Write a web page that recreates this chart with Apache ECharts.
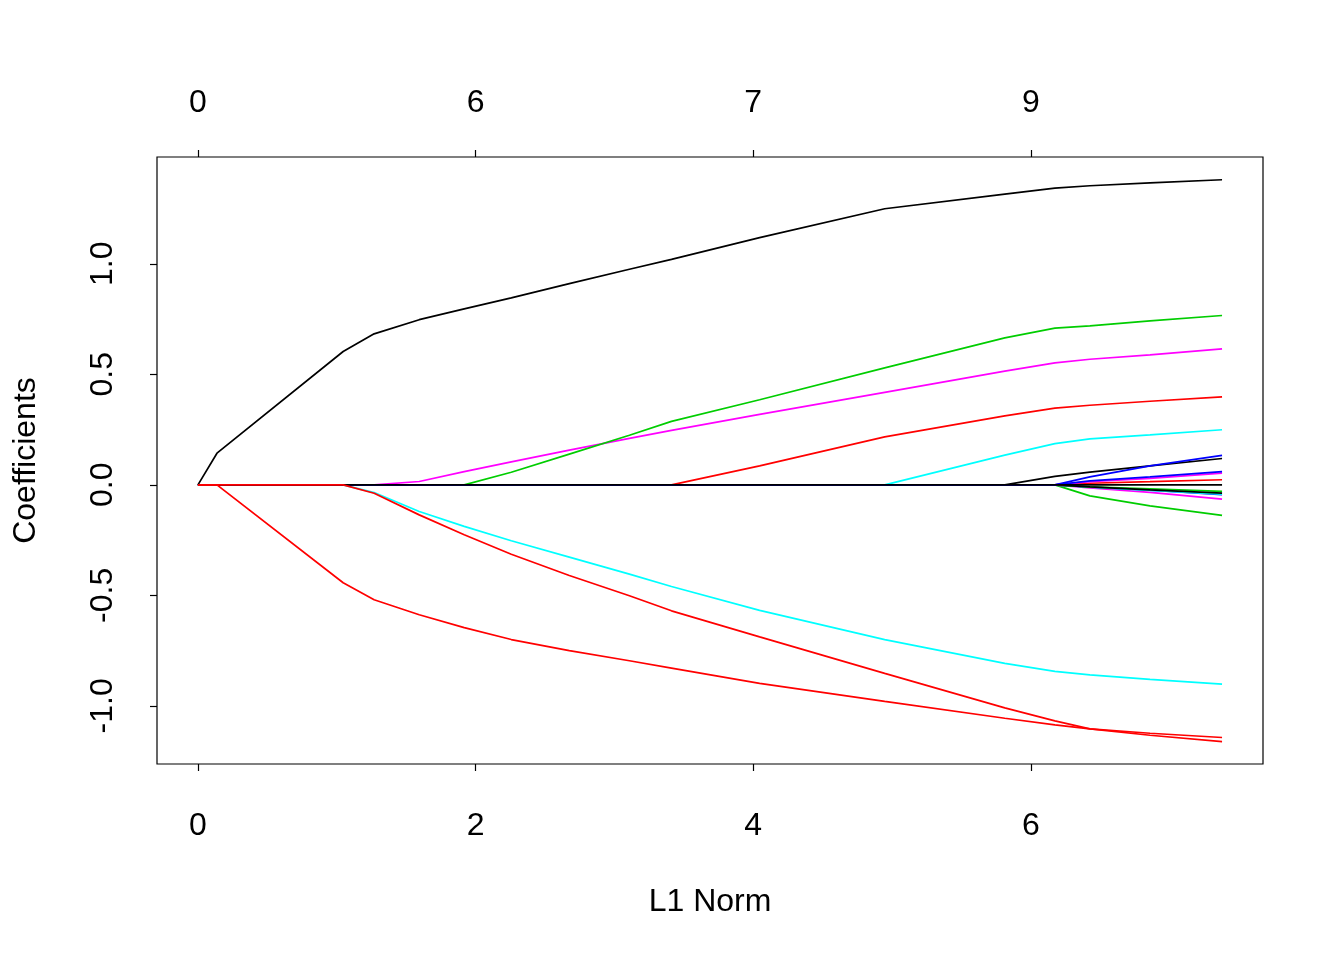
<!DOCTYPE html>
<html>
<head>
<meta charset="utf-8">
<script src="https://cdn.jsdelivr.net/npm/echarts@6/dist/echarts.min.js"></script>
<style>
html,body{margin:0;padding:0;background:#fff;}
#chart{width:1344px;height:960px;}
</style>
</head>
<body>
<div id="chart"></div>
<script>
// L1 norm at each knot of the path
const l1Norm = [0, 0.137, 1.046, 1.269, 1.594, 1.918, 2.257, 2.675, 3.108, 3.411, 4.046, 4.947, 5.812, 6.173, 6.425, 6.858, 7.377];

// coefficient paths (value at each knot)
const coefBlack1   = [0, 0.143, 0.603, 0.683, 0.747, 0.796, 0.846, 0.910, 0.975, 1.020, 1.118, 1.249, 1.315, 1.342, 1.353, 1.366, 1.380];
const coefRed1     = [0, 0, -0.443, -0.520, -0.588, -0.646, -0.700, -0.750, -0.796, -0.829, -0.898, -0.980, -1.056, -1.086, -1.104, -1.124, -1.143];
const coefRed2     = [0, 0, 0, -0.038, -0.136, -0.226, -0.314, -0.410, -0.502, -0.570, -0.688, -0.853, -1.009, -1.068, -1.104, -1.133, -1.162];
const coefCyan1    = [0, 0, 0, -0.035, -0.121, -0.188, -0.253, -0.327, -0.404, -0.460, -0.568, -0.700, -0.808, -0.844, -0.860, -0.880, -0.902];
const coefMagenta1 = [0, 0, 0, 0, 0.015, 0.060, 0.104, 0.157, 0.210, 0.246, 0.319, 0.418, 0.514, 0.552, 0.568, 0.588, 0.615];
const coefGreen1   = [0, 0, 0, 0, 0, 0, 0.057, 0.139, 0.224, 0.287, 0.385, 0.529, 0.665, 0.709, 0.719, 0.742, 0.766];
const coefRed3     = [0, 0, 0, 0, 0, 0, 0, 0, 0, 0, 0.086, 0.217, 0.312, 0.347, 0.360, 0.378, 0.398];
const coefCyan2    = [0, 0, 0, 0, 0, 0, 0, 0, 0, 0, 0, 0, 0.134, 0.186, 0.208, 0.226, 0.249];
const coefBlack2   = [0, 0, 0, 0, 0, 0, 0, 0, 0, 0, 0, 0, 0, 0.038, 0.057, 0.086, 0.119];
const coefBlue1    = [0, 0, 0, 0, 0, 0, 0, 0, 0, 0, 0, 0, 0, 0, 0.036, 0.086, 0.133];
const coefBlue2    = [0, 0, 0, 0, 0, 0, 0, 0, 0, 0, 0, 0, 0, 0, 0.018, 0.036, 0.060];
const coefMagenta2 = [0, 0, 0, 0, 0, 0, 0, 0, 0, 0, 0, 0, 0, 0, 0.014, 0.029, 0.053];
const coefRed4     = [0, 0, 0, 0, 0, 0, 0, 0, 0, 0, 0, 0, 0, 0, 0.007, 0.014, 0.023];
const coefGreen2   = [0, 0, 0, 0, 0, 0, 0, 0, 0, 0, 0, 0, 0, 0, -0.009, -0.018, -0.030];
const coefCyan3    = [0, 0, 0, 0, 0, 0, 0, 0, 0, 0, 0, 0, 0, 0, -0.011, -0.025, -0.042];
const coefBlue3    = [0, 0, 0, 0, 0, 0, 0, 0, 0, 0, 0, 0, 0, 0, -0.010, -0.024, -0.044];
const coefBlack3   = [0, 0, 0, 0, 0, 0, 0, 0, 0, 0, 0, 0, 0, 0, -0.009, -0.023, -0.038];
const coefMagenta3 = [0, 0, 0, 0, 0, 0, 0, 0, 0, 0, 0, 0, 0, 0, -0.014, -0.034, -0.065];
const coefGreen3   = [0, 0, 0, 0, 0, 0, 0, 0, 0, 0, 0, 0, 0, 0, -0.050, -0.095, -0.138];
const coefBlack4   = [0, 0, 0, 0, 0, 0, 0, 0, 0, 0, 0, 0, 0, 0, 0, 0, 0];

// tick labels
const bottomTicks = [0, 2, 4, 6];
const topTickLabels = ['0', '6', '7', '9'];
const yTicks = [-1, -0.5, 0, 0.5, 1];

const BLACK = '#000000', RED = '#FF0000', GREEN = '#00CD00', BLUE = '#0000FF', CYAN = '#00FFFF', MAGENTA = '#FF00FF';

// draw order: later on top
const paths = [
  [coefMagenta1, MAGENTA], [coefGreen1, GREEN], [coefCyan1, CYAN], [coefRed3, RED],
  [coefCyan2, CYAN], [coefGreen3, GREEN], [coefMagenta3, MAGENTA], [coefBlue3, BLUE],
  [coefCyan3, CYAN], [coefGreen2, GREEN], [coefBlack3, BLACK], [coefRed4, RED],
  [coefMagenta2, MAGENTA], [coefBlue2, BLUE], [coefBlack2, BLACK], [coefBlue1, BLUE],
  [coefBlack4, BLACK], [coefBlack1, BLACK], [coefRed2, RED], [coefRed1, RED]
];

const FONT = 'Liberation Sans, Arial, Helvetica, sans-serif';
const FS = 32;

const chart = echarts.init(document.getElementById('chart'), null, {renderer: 'canvas'});
chart.setOption({
  animation: false,
  backgroundColor: '#ffffff',
  grid: {left: 157, right: 81, top: 157, bottom: 196, show: true, borderColor: '#000', borderWidth: 1.2, backgroundColor: 'transparent'},
  xAxis: [{
    type: 'value', position: 'bottom', min: -0.295, max: 7.672,
    name: 'L1 Norm', nameLocation: 'middle', nameGap: 122,
    nameTextStyle: {color: '#000', fontSize: FS, fontFamily: FONT},
    axisLine: {show: false, onZero: false},
    splitLine: {show: false},
    axisTick: {show: true, length: 7, inside: false, customValues: bottomTicks, lineStyle: {color: '#000', width: 1.2}},
    axisLabel: {show: true, customValues: bottomTicks, margin: 46, color: '#000', fontSize: FS, fontFamily: FONT, formatter: v => String(v)}
  }, {
    type: 'value', position: 'top', min: -0.295, max: 7.672,
    axisLine: {show: false, onZero: false},
    splitLine: {show: false},
    axisTick: {show: true, length: 7, inside: false, customValues: bottomTicks, lineStyle: {color: '#000', width: 1.2}},
    axisLabel: {show: true, customValues: bottomTicks, margin: 38, color: '#000', fontSize: FS, fontFamily: FONT,
      formatter: v => topTickLabels[bottomTicks.indexOf(Math.round(v))]}
  }],
  yAxis: {
    type: 'value', min: -1.263, max: 1.483, position: 'left',
    name: 'Coefficients', nameLocation: 'middle', nameGap: 115, nameRotate: 90,
    nameTextStyle: {color: '#000', fontSize: FS, fontFamily: FONT},
    axisLine: {show: false, onZero: false},
    splitLine: {show: false},
    axisTick: {show: true, length: 7, inside: false, customValues: yTicks, lineStyle: {color: '#000', width: 1.2}},
    axisLabel: {show: true, customValues: yTicks, rotate: 90, margin: 38, color: '#000', fontSize: FS, fontFamily: FONT,
      formatter: v => v.toFixed(1)}
  },
  series: paths.map(([coef, color], i) => ({
    type: 'line', xAxisIndex: 0, yAxisIndex: 0,
    data: l1Norm.map((x, k) => [x, coef[k]]),
    showSymbol: false, symbol: 'none', silent: true,
    lineStyle: {color: color, width: 1.7},
    z: 2
  }))
});
</script>
</body>
</html>
